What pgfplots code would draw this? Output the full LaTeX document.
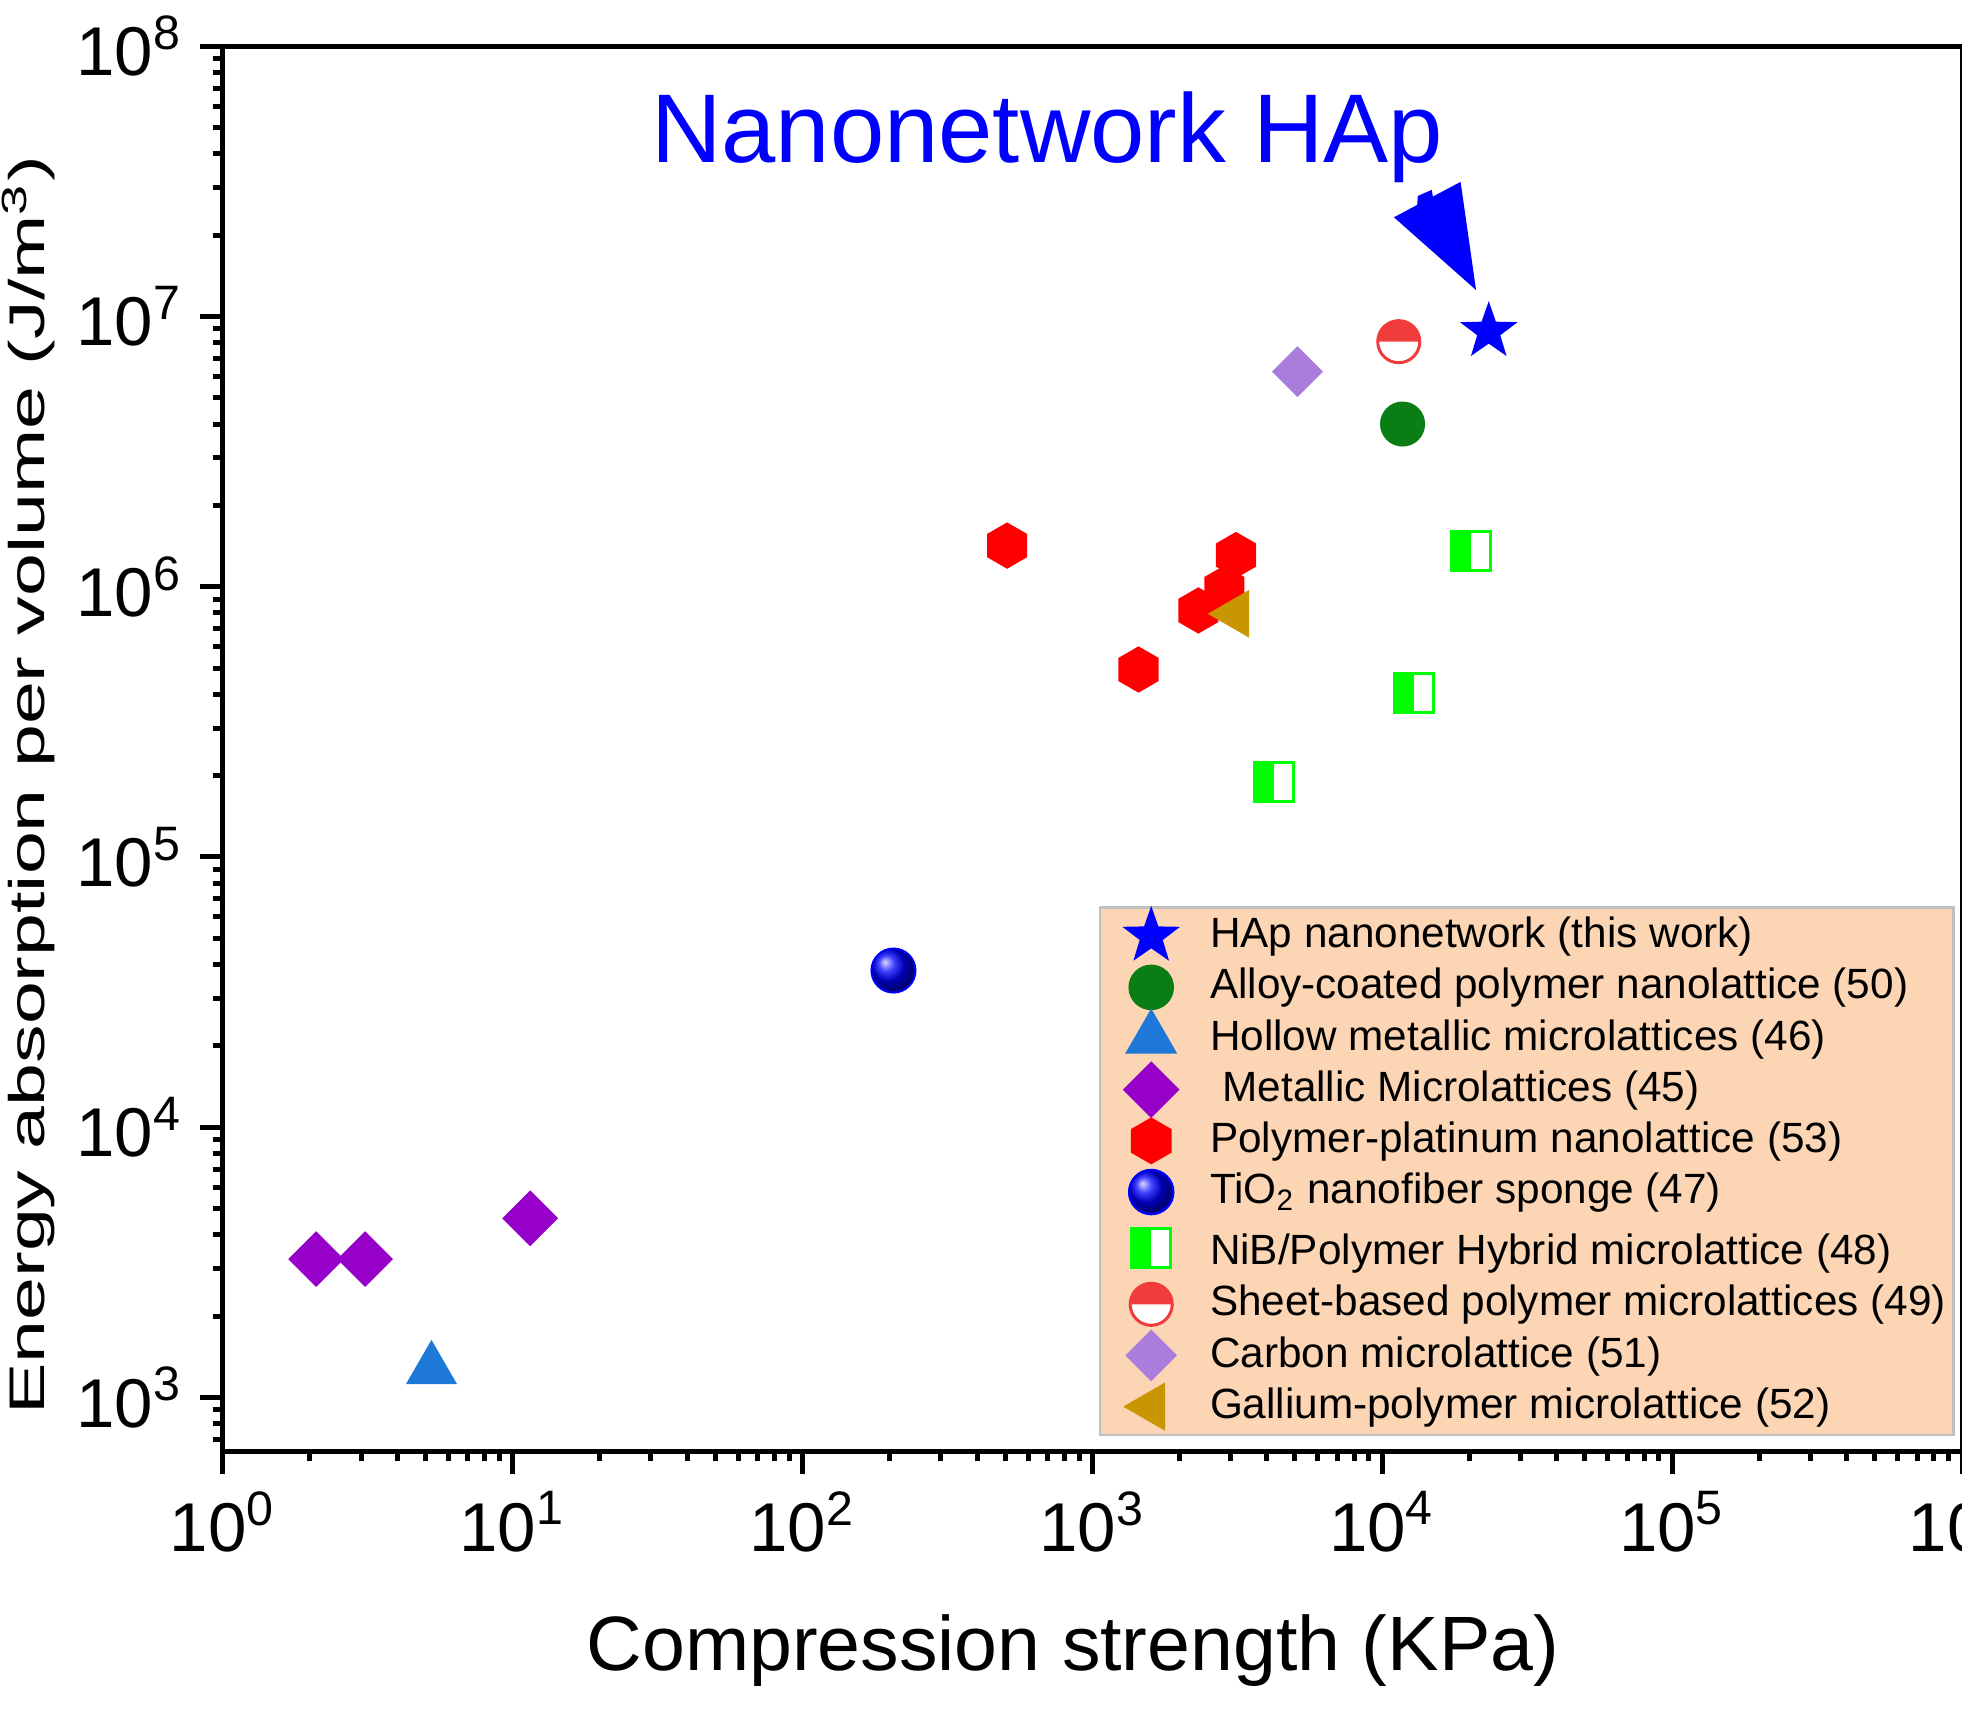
\documentclass[border=0pt]{standalone}
\usepackage{fontspec}
\setmainfont{Liberation Sans}
\usepackage{graphicx}
\usepackage{pgfplots}
\pgfplotsset{compat=1.18}

\definecolor{starblue}{RGB}{0,0,255}
\definecolor{alloygreen}{RGB}{10,125,20}
\definecolor{hollowblue}{RGB}{30,120,215}
\definecolor{metalpurple}{RGB}{150,0,200}
\definecolor{platred}{RGB}{255,0,0}
\definecolor{nibgreen}{RGB}{0,255,0}
\definecolor{sheetred}{RGB}{240,60,60}
\definecolor{carbonlav}{RGB}{170,125,220}
\definecolor{galliumgold}{RGB}{200,150,0}
\definecolor{legfill}{RGB}{252,213,180}

\pgfdeclareplotmark{fstar}{%
  \pgfpathmoveto{\pgfqpointpolar{90}{\pgfplotmarksize}}%
  \pgfpathlineto{\pgfqpointpolar{126}{0.40\pgfplotmarksize}}%
  \pgfpathlineto{\pgfqpointpolar{162}{\pgfplotmarksize}}%
  \pgfpathlineto{\pgfqpointpolar{198}{0.40\pgfplotmarksize}}%
  \pgfpathlineto{\pgfqpointpolar{234}{\pgfplotmarksize}}%
  \pgfpathlineto{\pgfqpointpolar{270}{0.40\pgfplotmarksize}}%
  \pgfpathlineto{\pgfqpointpolar{306}{\pgfplotmarksize}}%
  \pgfpathlineto{\pgfqpointpolar{342}{0.40\pgfplotmarksize}}%
  \pgfpathlineto{\pgfqpointpolar{18}{\pgfplotmarksize}}%
  \pgfpathlineto{\pgfqpointpolar{54}{0.40\pgfplotmarksize}}%
  \pgfpathclose
  \pgfusepathqfillstroke}
\pgfdeclareplotmark{hexa}{%
  \pgfpathmoveto{\pgfqpointpolar{90}{\pgfplotmarksize}}%
  \pgfpathlineto{\pgfqpointpolar{150}{\pgfplotmarksize}}%
  \pgfpathlineto{\pgfqpointpolar{210}{\pgfplotmarksize}}%
  \pgfpathlineto{\pgfqpointpolar{270}{\pgfplotmarksize}}%
  \pgfpathlineto{\pgfqpointpolar{330}{\pgfplotmarksize}}%
  \pgfpathlineto{\pgfqpointpolar{30}{\pgfplotmarksize}}%
  \pgfpathclose
  \pgfusepathqfillstroke}
\pgfdeclareplotmark{sqdiamond}{%
  \pgfpathmoveto{\pgfqpoint{0pt}{\pgfplotmarksize}}%
  \pgfpathlineto{\pgfqpoint{\pgfplotmarksize}{0pt}}%
  \pgfpathlineto{\pgfqpoint{0pt}{-\pgfplotmarksize}}%
  \pgfpathlineto{\pgfqpoint{-\pgfplotmarksize}{0pt}}%
  \pgfpathclose
  \pgfusepathqfillstroke}
\pgfdeclareplotmark{halfsqleft}{%
  \pgfscope\pgfsetfillcolor{white}%
  \pgfpathrectangle{\pgfqpoint{-\pgfplotmarksize}{-\pgfplotmarksize}}{\pgfqpoint{2\pgfplotmarksize}{2\pgfplotmarksize}}%
  \pgfusepathqfill\endpgfscope
  \pgfpathrectangle{\pgfqpoint{-\pgfplotmarksize}{-\pgfplotmarksize}}{\pgfqpoint{\pgfplotmarksize}{2\pgfplotmarksize}}%
  \pgfusepathqfill
  \pgfpathrectangle{\pgfqpoint{-\pgfplotmarksize}{-\pgfplotmarksize}}{\pgfqpoint{2\pgfplotmarksize}{2\pgfplotmarksize}}%
  \pgfusepathqstroke}
\pgfdeclareplotmark{halfcircletop}{%
  \pgfscope\pgfsetfillcolor{white}%
  \pgfpathcircle{\pgfpointorigin}{\pgfplotmarksize}%
  \pgfusepathqfill\endpgfscope
  \pgfpathmoveto{\pgfqpoint{\pgfplotmarksize}{0pt}}%
  \pgfpatharc{0}{180}{\pgfplotmarksize}%
  \pgfpathclose
  \pgfusepathqfill
  \pgfpathcircle{\pgfpointorigin}{\pgfplotmarksize}%
  \pgfusepathqstroke}

\begin{document}
\begin{tikzpicture}
\begin{axis}[
  scale only axis,
  width=347.5pt, height=280.75pt,
  xmode=log, ymode=log,
  log basis x=10, log basis y=10,
  xmin=1, xmax=1e6, ymin=630.957, ymax=1e8,
  axis line style={line width=1pt},
  tick style={line width=1pt, black},
  major tick length=4.5pt, minor tick length=2pt,
  tick align=outside,
  xtick pos=bottom, ytick pos=left,
  tick label style={font=\fontsize{13.8}{13.8}\selectfont},
  xticklabel={10\textsuperscript{\pgfmathprintnumber[fixed,precision=0,assume math mode=true]{\tick}}},
  yticklabel={10\textsuperscript{\pgfmathprintnumber[fixed,precision=0,assume math mode=true]{\tick}}},
  xlabel={Compression strength (KPa)},
  ylabel={\scalebox{1.54}[1]{\fontsize{10}{10}\selectfont Energy absorption per volume (J/m\textsuperscript{3})}},
  xlabel style={font=\fontsize{15.4}{15.4}\selectfont, at={(axis description cs:0.4888,-0.1558)}, anchor=base},
  ylabel style={at={(axis description cs:-0.1024,0.4742)}, anchor=base, inner sep=0pt},
  legend cell align=left,
  legend image code/.code={%
    \path[draw=none, fill=none] (0pt,-2pt) rectangle (20.5pt,2pt);
    \begin{pgfinterruptboundingbox}
    \draw[#1, only marks] plot coordinates {(8.75pt,0pt)};
    \end{pgfinterruptboundingbox}},
  legend style={at={(axis description cs:0.9957,0.0107)}, anchor=south east,
    fill=legfill, draw=black!25, line width=0.5pt,
    font=\fontsize{8.45}{8.45}\selectfont,
    inner xsep=1.5pt, inner ysep=0.6pt, row sep=0pt,
    nodes={inner ysep=1.3pt, inner xsep=0pt}},
]
\addplot[only marks, mark=fstar, mark size=5.6pt, mark options={draw=starblue, fill=starblue, line width=0.3pt}]
  coordinates {(23300,8.8e6)};
\addlegendentry{HAp nanonetwork (this work)}
\addplot[only marks, mark=*, mark size=4.3pt, mark options={draw=alloygreen, fill=alloygreen}]
  coordinates {(11750,4.0e6)};
\addlegendentry{Alloy-coated polymer nanolattice (50)}
\addplot[only marks, mark=triangle*, mark size=5.5pt, mark options={draw=hollowblue, fill=hollowblue}]
  coordinates {(5.25,1270)};
\addlegendentry{Hollow metallic microlattices (46)}
\addplot[only marks, mark=sqdiamond, mark size=5.3pt, mark options={draw=metalpurple, fill=metalpurple}]
  coordinates {(2.1,3250) (3.1,3250) (11.5,4600)};
\addlegendentry{\hspace{2.5pt}Metallic Microlattices (45)}
\addplot[only marks, mark=hexa, mark size=4.4pt, mark options={draw=platred, fill=platred}]
  coordinates {(508,1.42e6) (3130,1.31e6) (2853,9.84e5) (2321,8.17e5) (1443,4.94e5)};
\addlegendentry{Polymer-platinum nanolattice (53)}
\addplot[only marks, mark=ball, mark size=4.4pt, mark options={ball color=blue, draw=blue}]
  coordinates {(206,3.8e4)};
\addlegendentry{TiO\textsubscript{2} nanofiber sponge (47)}
\addplot[only marks, mark=halfsqleft, mark size=3.9pt, mark options={draw=nibgreen, fill=nibgreen, line width=0.6pt}]
  coordinates {(20300,1.36e6) (12850,4.04e5) (4220,1.9e5)};
\addlegendentry{\rule{0pt}{8.1pt}NiB/Polymer Hybrid microlattice (48)}
\addplot[only marks, mark=halfcircletop, mark size=4.2pt, mark options={draw=sheetred, fill=sheetred, line width=0.6pt}]
  coordinates {(11400,8.07e6)};
\addlegendentry{Sheet-based polymer microlattices (49)}
\addplot[only marks, mark=sqdiamond, mark size=4.8pt, mark options={draw=carbonlav, fill=carbonlav}]
  coordinates {(5100,6.25e6)};
\addlegendentry{Carbon microlattice (51)}
\addplot[only marks, mark=triangle*, mark size=5.1pt, mark options={draw=galliumgold, fill=galliumgold, rotate=90}]
  coordinates {(3113,7.94e5)};
\addlegendentry{Gallium-polymer microlattice (52)}

\node[font=\fontsize{19.5}{19.5}\selectfont, text=blue, anchor=base] at (rel axis cs:0.474,0.917) {Nanonetwork HAp};
\fill[blue] (rel axis cs:0.6734,0.8783) -- (rel axis cs:0.7117,0.9035) -- (rel axis cs:0.7206,0.8265) -- cycle;
\fill[blue] (rel axis cs:0.6867,0.8860) -- (rel axis cs:0.6871,0.8935) -- (rel axis cs:0.6951,0.8978) -- (rel axis cs:0.6960,0.8915) -- cycle;
\end{axis}
\pgfresetboundingbox
\path[use as bounding box] ([xshift=-44.5pt,yshift=-54.75pt]current axis.south west) rectangle ([yshift=9.25pt]current axis.north east);
\end{tikzpicture}
\end{document}
